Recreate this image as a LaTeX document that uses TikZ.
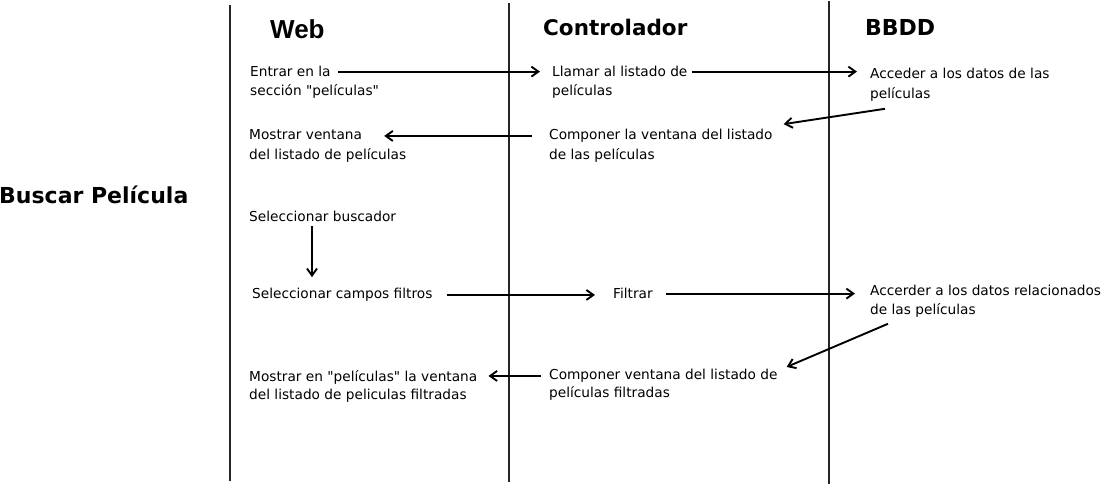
\documentclass[tikz,border=0pt]{standalone}
\usepackage{fontspec}
\setmainfont{DejaVu Sans}[Ligatures=TeXOff]
\newfontfamily\webfont{Liberation Sans}
\usetikzlibrary{arrows.meta}

\begin{document}
\begin{tikzpicture}[x=1pt, y=-1pt,
  paso/.style={anchor=mid west, inner sep=0pt, font=\fontsize{13.7}{19}\selectfont},
  carril/.style={anchor=base west, inner sep=0pt, font=\bfseries\fontsize{21.5}{24}\selectfont},
  flecha/.style={-{Straight Barb[length=7pt,width=10pt]}, line width=1.9pt, shorten <=7pt, shorten >=12pt}]
  \useasboundingbox (0,0) rectangle (1111,487);

  % Lane separators
  \foreach \x/\top/\bot in {230/5/481, 509/3/482, 829/1/484} {
    \draw[line width=1.7pt, black!85] (\x,\top) -- (\x,\bot);
  }

  % Lane titles
  \node[carril, font=\webfont\bfseries\fontsize{26}{28}\selectfont] (web) at (270,39) {Web};
  \node[carril] (ctrl) at (543,36) {Controlador};
  \node[carril, font=\bfseries\fontsize{22}{24}\selectfont] (bbdd) at (865,36) {BBDD};
  \node[carril, font=\bfseries\fontsize{22}{24}\selectfont] (caso) at (-1,203) {Buscar Película};

  % Web column
  \node[paso] (e1a) at (250,74) {Entrar en la};
  \node[paso] (e1b) at (250,93) {sección "películas"};
  \node[paso] (e2a) at (249,137) {Mostrar ventana};
  \node[paso] (e2b) at (249,157) {del listado de películas};
  \node[paso] (e3) at (249,219) {Seleccionar buscador};
  \node[paso] (e4) at (252,296) {Seleccionar campos filtros};
  \node[paso] (e5a) at (249,379) {Mostrar en "películas" la ventana};
  \node[paso] (e5b) at (249,397) {del listado de peliculas filtradas};

  % Controlador column
  \node[paso] (c1a) at (552,74) {Llamar al listado de};
  \node[paso] (c1b) at (552,93) {películas};
  \node[paso] (c2a) at (549,137) {Componer la ventana del listado};
  \node[paso] (c2b) at (549,157) {de las películas};
  \node[paso] (c3) at (613,296) {Filtrar};
  \node[paso] (c4a) at (549,377) {Componer ventana del listado de};
  \node[paso] (c4b) at (549,395) {películas filtradas};

  % BBDD column
  \node[paso] (b1a) at (870,76) {Acceder a los datos de las};
  \node[paso] (b1b) at (870,96) {películas};
  \node[paso] (b2a) at (870,293) {Accerder a los datos relacionados};
  \node[paso] (b2b) at (870,312) {de las películas};

  % Messages
  \draw[flecha] (e1a.east) -- (e1a.east -| c1a.west);
  \draw[flecha, shorten <=4pt, shorten >=13pt] (c1a.east) -- (c1a.east -| b1a.west);
  \draw[flecha, shorten <=0pt, shorten >=0pt] ([shift={(15pt,-7pt)}]b1b.south west) -- ([shift={(11pt,5pt)}]c2a.north east);
  \draw[flecha, shorten <=17pt, shorten >=22pt] (c2a.west) -- (c2a.west -| e2a.east);
  \draw[flecha, shorten <=4pt, shorten >=11pt] ([xshift=63pt]e3.south west) -- ([xshift=63pt]e3.south west |- e4.north);
  \draw[flecha, shorten <=14pt, shorten >=18pt] (e4.east) -- (e4.east -| c3.west);
  \draw[flecha, shorten <=13pt, shorten >=15pt] (c3.east) -- (c3.east -| b2a.west);
  \draw[flecha, shorten <=0pt, shorten >=0pt] ([shift={(18pt,-6pt)}]b2b.south west) -- ([shift={(9pt,9pt)}]c4a.east);
  \draw[flecha, shorten <=8pt, shorten >=11pt] (c4a.west) -- (c4a.west -| e5a.east);
\end{tikzpicture}
\end{document}
